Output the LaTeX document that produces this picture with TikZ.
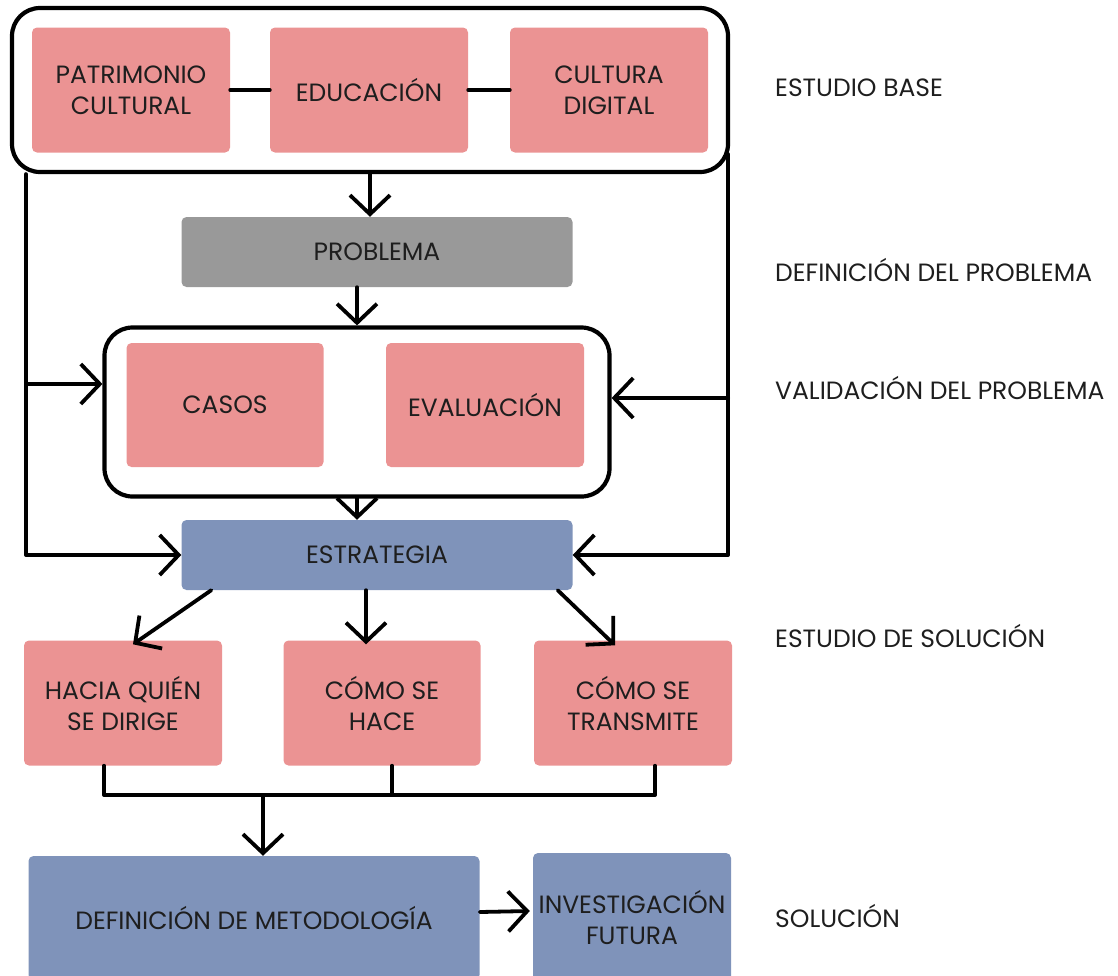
\documentclass[tikz,border=0pt]{standalone}
\usepackage{fontspec}
\setmainfont{Poppins}
\usetikzlibrary{arrows.meta,calc}
\definecolor{pk}{HTML}{EB9393}
\definecolor{gr}{HTML}{999999}
\definecolor{bl}{HTML}{7F93BA}
\definecolor{tx}{HTML}{1E1E1E}
\begin{document}
\begin{tikzpicture}[x=1pt,y=-1pt,
  box/.style={rounded corners=5pt, align=center, text=tx, inner sep=0pt,
    font=\fontsize{25}{31}\selectfont},
  pinkbox/.style={box, fill=pk, minimum width=198pt, minimum height=125pt},
  graybox/.style={box, fill=gr, minimum width=391pt, minimum height=70pt},
  bluebox/.style={box, fill=bl},
  outline/.style={draw=black, line width=4.2pt, rounded corners=28pt, inner sep=0pt},
  conn/.style={draw=black, line width=3.8pt, line cap=round, line join=round},
  arr/.style={conn, -{Straight Barb[length=19pt,width=40pt]}},
  lbl/.style={anchor=west, text=tx, inner sep=0pt, font=\fontsize{25}{30}\selectfont}
]
\useasboundingbox (0,0) rectangle (1118,975);
\clip (0,0) rectangle (1118,975);

% top group
\node[pinkbox] (pat) at (131,90) {PATRIMONIO\\CULTURAL};
\node[pinkbox] (edu) at (369,90) {EDUCACIÓN};
\node[pinkbox] (cul) at (609,90) {CULTURA\\DIGITAL};
\node[outline, minimum width=716pt, minimum height=164pt] (g1) at (370,90) {};
\draw[conn] (pat.east) -- (edu.west);
\draw[conn] (edu.east) -- (cul.west);

% problem
\node[graybox] (prob) at (377,252) {PROBLEMA};

% validation group
\node[pinkbox, minimum width=197pt, minimum height=124pt] (casos) at (225,405) {CASOS};
\node[pinkbox, minimum height=124pt] (eval) at (485,405) {EVALUACIÓN};
\node[outline, minimum width=505pt, minimum height=169pt] (g2) at (357,412) {};

% strategy
\node[bluebox, minimum width=391pt, minimum height=70pt] (estr) at (377,555) {ESTRATEGIA};

% solution study
\node[pinkbox] (hacia) at (123,703) {HACIA QUIÉN\\SE DIRIGE};
\node[pinkbox, minimum width=197pt] (hace) at (382,703) {CÓMO SE\\HACE};
\node[pinkbox] (trans) at (633,703) {CÓMO SE\\TRANSMITE};

% solution
\node[bluebox, minimum width=451pt, minimum height=124pt] (def) at (254,918) {DEFINICIÓN DE METODOLOGÍA};
\node[bluebox, minimum width=198pt, minimum height=128pt] (inv) at (632,917) {INVESTIGACIÓN\\FUTURA};

% right labels
\node[lbl] (l1) at (775,88) {ESTUDIO BASE};
\node[lbl] (l2) at (775,270) {DEFINICIÓN DEL PROBLEMA};
\node[lbl] (l3) at (775,388) {VALIDACIÓN DEL PROBLEMA};
\node[lbl] (l4) at (775,636) {ESTUDIO DE SOLUCIÓN};
\node[lbl] (l5) at (775,916) {SOLUCIÓN};

% main flow
\draw[arr] (g1.south) -- (g1.south |- prob.north);
\draw[arr] (g2.north |- prob.south) -- (g2.north);
\draw[arr] (g2.south) -- (g2.south |- estr.north);

% feedback loops
\coordinate (lt) at ([xshift=16pt]g1.south west);
\coordinate (rt) at ([xshift=-2pt,yshift=20pt]g1.south east);
\draw[arr] (lt) -- (lt |- estr.west) -- (estr.west);
\draw[arr] ($(lt |- g2.west)+(0,-28)$) -- ($(g2.west)+(0,-28)$);
\draw[arr] (rt) -- (rt |- estr.east) -- (estr.east);
\draw[arr] ($(rt |- g2.east)+(0,-14)$) -- ($(g2.east)+(0,-14)$);

% strategy branches
\draw[arr] ([xshift=30pt]estr.south west) -- ([xshift=10pt,yshift=-4pt]hacia.north);
\draw[arr] ([xshift=-11pt]estr.south) -- ([xshift=-16pt,yshift=-4pt]hace.north);
\draw[arr] ([xshift=-15pt]estr.south east) -- ([xshift=-18pt,yshift=-5pt]trans.north);

% join bracket
\coordinate (jn) at (263,795);
\draw[conn] ([xshift=-19pt]hacia.south) -- ([xshift=-19pt]hacia.south |- jn)
  -- ([xshift=22pt]trans.south |- jn) -- ([xshift=22pt]trans.south);
\draw[conn] ([xshift=10pt]hace.south) -- ([xshift=10pt]hace.south |- jn);
\draw[arr] (jn) -- (jn |- def.north);

% to future research
\draw[arr] ([yshift=6pt]def.east) -- ([yshift=6pt,xshift=-3pt]inv.west);
\end{tikzpicture}
\end{document}
